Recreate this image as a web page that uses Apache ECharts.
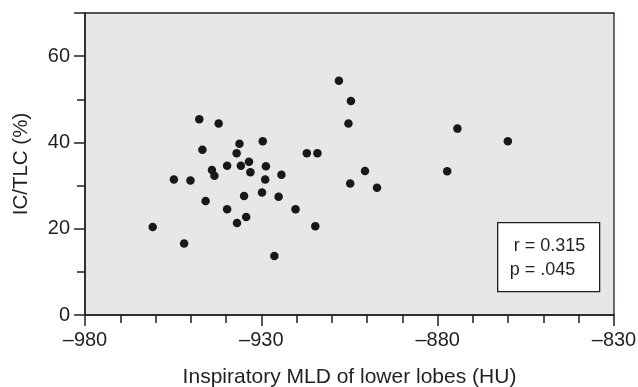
<!DOCTYPE html>
<html>
<head>
    <meta charset="utf-8">
    <title>IC/TLC vs MLD</title>
    <script src="https://cdn.jsdelivr.net/npm/echarts@6/dist/echarts.min.js"></script>
    <style>
        html, body { margin: 0; padding: 0; background: #fff; }
        #chart { width: 638px; height: 387px; }
    </style>
</head>
<body>
<div id="chart"></div>
<script type="text/javascript">
    // inspiratory MLD of lower lobes (HU)
    const mld = [
        -947.6, -942.1, -946.7, -937.0, -936.2, -929.6, -944.0, -943.3, -939.7, -935.8,
        -933.5, -933.1, -928.7, -924.3, -928.9, -954.8, -950.1, -917.1, -914.1, -945.8,
        -939.7, -934.9, -929.8, -925.1, -936.9, -934.3, -920.3, -914.7, -960.8, -951.9,
        -926.3, -908.0, -904.6, -905.3, -874.4, -860.1, -900.6, -904.8, -897.2, -877.3
    ];
    // IC/TLC (%)
    const ictlc = [
        45.4, 44.4, 38.3, 37.5, 39.7, 40.3, 33.6, 32.3, 34.6, 34.6,
        35.5, 33.1, 34.5, 32.5, 31.4, 31.4, 31.2, 37.5, 37.5, 26.4,
        24.5, 27.6, 28.4, 27.4, 21.3, 22.7, 24.5, 20.6, 20.4, 16.6,
        13.7, 54.3, 49.6, 44.4, 43.2, 40.3, 33.4, 30.5, 29.5, 33.3
    ];
    const statLines = ['r = 0.315', 'p = .045'];

    const points = mld.map(function (x, i) { return [x, ictlc[i]]; });

    const chart = echarts.init(document.getElementById('chart'));
    const font = '"Liberation Sans", Arial, sans-serif';
    const ink = '#231f20';

    const option = {
        animation: false,
        grid: {
            left: 85, right: 24, top: 13, bottom: 72,
            outerBoundsMode: 'none',
            show: true,
            backgroundColor: '#e6e7e9',
            borderColor: ink,
            borderWidth: 1.3
        },
        xAxis: {
            type: 'value',
            min: -980, max: -830, interval: 50,
            name: 'Inspiratory MLD of lower lobes (HU)',
            nameLocation: 'middle',
            nameGap: 52,
            nameTextStyle: { fontFamily: font, fontSize: 21, color: ink },
            axisLine: { show: true, lineStyle: { color: ink, width: 1.5 } },
            axisTick: { show: true, length: 11, lineStyle: { color: ink, width: 1.5 } },
            minorTick: { show: true, splitNumber: 5, length: 8, lineStyle: { color: ink, width: 1.5 } },
            splitLine: { show: false },
            axisLabel: {
                fontFamily: font, fontSize: 20, color: ink, margin: 15,
                formatter: function (v) { return String(v).replace('-', '\u2013'); }
            }
        },
        yAxis: {
            type: 'value',
            min: 0, max: 70, interval: 20,
            name: 'IC/TLC (%)',
            nameLocation: 'middle',
            nameGap: 53,
            nameTextStyle: { fontFamily: font, fontSize: 20.5, color: ink },
            axisLine: { show: true, lineStyle: { color: ink, width: 1.5 } },
            axisTick: { show: true, length: 11, lineStyle: { color: ink, width: 1.5 } },
            minorTick: { show: true, splitNumber: 2, length: 8, lineStyle: { color: ink, width: 1.5 } },
            splitLine: { show: false },
            axisLabel: {
                fontFamily: font, fontSize: 20, color: ink, margin: 15,
                showMaxLabel: false
            }
        },
        series: [{
            type: 'scatter',
            data: points,
            symbol: 'circle',
            symbolSize: 8.5,
            itemStyle: { color: '#1a1718', opacity: 1 }
        }],
        graphic: [{
            type: 'group',
            left: 497, top: 222,
            children: [{
                type: 'rect',
                shape: { x: 0, y: 0, width: 102, height: 69 },
                style: { fill: '#fff', stroke: ink, lineWidth: 1.3 }
            }, {
                type: 'text',
                x: 16, y: 14,
                style: { text: statLines[0], font: '18px ' + font, fill: ink }
            }, {
                type: 'text',
                x: 12, y: 38,
                style: { text: statLines[1], font: '18px ' + font, fill: ink }
            }]
        }]
    };
    chart.setOption(option);
    window.addEventListener('resize', chart.resize);
</script>
</body>
</html>
